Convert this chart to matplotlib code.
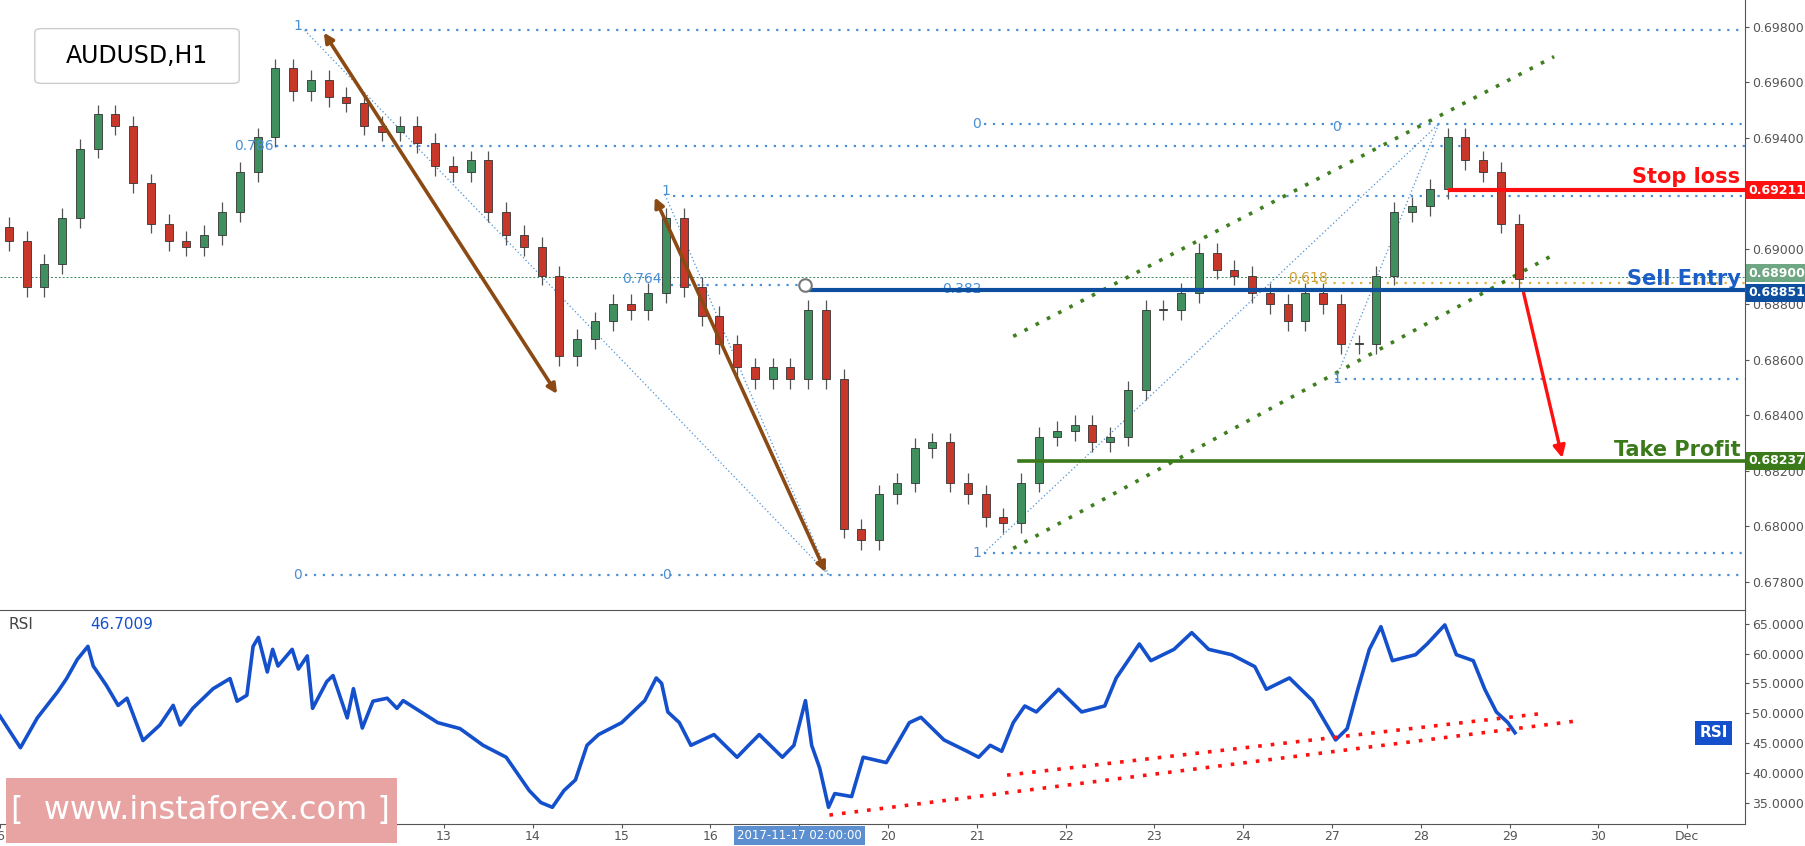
import numpy as np
import matplotlib
matplotlib.use("Agg")
import matplotlib.pyplot as plt
from matplotlib.patches import Rectangle, FancyBboxPatch

# ---- data ----
# 5-hour-ish closes, starting on day index 0 (Nov 6), step 0.2 trading day
closes = [0.69029, 0.68863, 0.68946, 0.69112, 0.69361, 0.69485, 0.69444, 0.69236, 0.69091, 0.69029,
          0.69008, 0.69050, 0.69133, 0.69278, 0.69402, 0.69651, 0.69568, 0.69610, 0.69547, 0.69527,
          0.69444, 0.69423, 0.69444, 0.69381, 0.69299, 0.69278, 0.69319, 0.69133, 0.69050, 0.69008,
          0.68904, 0.68614, 0.68676, 0.68739, 0.68801, 0.68780, 0.68842, 0.69112, 0.68863, 0.68759,
          0.68656, 0.68573, 0.68531, 0.68573, 0.68531, 0.68780, 0.68531, 0.67992, 0.67950, 0.68116,
          0.68158, 0.68282, 0.68303, 0.68158, 0.68116, 0.68033, 0.68013, 0.68158, 0.68324, 0.68344,
          0.68365, 0.68303, 0.68324, 0.68490, 0.68780, 0.68780, 0.68842, 0.68987, 0.68925, 0.68904,
          0.68842, 0.68801, 0.68739, 0.68842, 0.68801, 0.68656, 0.68656, 0.68904, 0.69133, 0.69153,
          0.69216, 0.69402, 0.69319, 0.69278, 0.69091, 0.68892]
first_open = 0.69080

rsi_t = [0.00, 0.23, 0.42, 0.65, 0.75, 0.87, 0.99, 1.05, 1.20, 1.33, 1.43, 1.61, 1.80, 1.95, 2.03,
         2.17, 2.40, 2.59, 2.67, 2.78, 2.85, 2.91, 3.01, 3.07, 3.13, 3.29, 3.36, 3.46, 3.52, 3.68,
         3.75, 3.91, 3.98, 4.08, 4.20, 4.36, 4.47, 4.54, 4.93, 5.18, 5.44, 5.70, 5.96, 6.09, 6.22,
         6.35, 6.48, 6.61, 6.74, 7.00, 7.26, 7.39, 7.45, 7.52, 7.65, 7.78, 8.04, 8.30, 8.43, 8.55,
         8.81, 8.94, 9.07, 9.14, 9.23, 9.33, 9.40, 9.59, 9.72, 9.98, 10.24, 10.37, 10.63, 10.89,
         11.02, 11.15, 11.28, 11.41, 11.54, 11.67, 11.92, 12.18, 12.44, 12.57, 12.83, 12.96, 13.22,
         13.42, 13.61, 13.87, 14.13, 14.26, 14.52, 14.78, 15.04, 15.17, 15.29, 15.42, 15.55, 15.68,
         15.94, 16.07, 16.27, 16.40, 16.59, 16.72, 16.85, 16.98, 17.06]
rsi_v = [49.5, 44.2, 49.2, 53.6, 55.8, 59.0, 61.2, 57.9, 54.6, 51.3, 52.5, 45.4, 48.0, 51.3, 48.0,
         50.8, 54.1, 55.8, 52.0, 53.0, 61.2, 62.7, 56.9, 60.7, 57.9, 60.7, 57.4, 59.6, 50.8, 55.3,
         56.3, 49.2, 54.1, 47.5, 52.0, 52.5, 50.8, 52.1, 48.4, 47.4, 44.6, 42.6, 37.0, 35.0, 34.2,
         37.0, 38.8, 44.6, 46.4, 48.4, 52.1, 55.9, 55.0, 50.2, 48.4, 44.6, 46.4, 42.6, 44.6, 46.4,
         42.6, 44.6, 52.1, 44.6, 40.8, 34.2, 36.5, 36.0, 42.6, 41.7, 48.4, 49.3, 45.5, 43.6,
         42.6, 44.6, 43.6, 48.4, 51.2, 50.2, 54.0, 50.2, 51.2, 55.9, 61.6, 58.8, 60.7,
         63.5, 60.7, 59.8, 57.8, 54.0, 55.9, 52.1, 45.5, 47.4, 54.0, 60.7, 64.5, 58.8,
         59.8, 61.6, 64.8, 59.8, 58.8, 54.0, 50.2, 48.4, 46.7]

day_labels = ["6", "7", "8", "9", "10", "13", "14", "15", "16", "", "20", "21", "22", "23", "24",
              "27", "28", "29", "30", "Dec"]

stop_loss, sell_entry, take_profit, last_close = 0.69211, 0.68851, 0.68237, 0.68900

fib_blue = "#4a8fd6"
W, H = 1805, 846
AW = 1745
fig = plt.figure(figsize=(W / 100, H / 100), dpi=100)
ax = fig.add_axes([0, 1 - 610 / H, AW / W, 610 / H])
ar = fig.add_axes([0, 22 / H, AW / W, (828 - 610 - 4) / H])
X1 = 19.65

# ---- candles ----
step = 0.2
t = np.arange(len(closes)) * step + 0.1
opens = [first_open] + closes[:-1]
for ti, o, c in zip(t, opens, closes):
    up = c >= o
    col = "#3f8f5f" if up else "#c8382a"
    lo, hi = min(o, c), max(o, c)
    ax.vlines(ti, lo - 0.00035, hi + 0.00035, color="#555555", lw=0.9, zorder=2)
    ax.add_patch(Rectangle((ti - 0.045, lo), 0.09, max(hi - lo, 0.00004), facecolor=col,
                           edgecolor="#333333", lw=0.6, zorder=3))

# ---- fibonacci levels (dotted) ----
def hdot(x0, y, color=fib_blue, lw=1.6):
    ax.plot([x0, X1], [y, y], ls=(0, (1, 3)), color=color, lw=lw, zorder=1)

hdot(3.43, 0.69788); hdot(3.43, 0.67826)
hdot(3.11, 0.69370); hdot(7.58, 0.69191)
hdot(11.08, 0.69450); hdot(11.08, 0.67905); hdot(15.04, 0.68530)
ax.plot([7.45, 9.07], [0.68870, 0.68870], ls=(0, (1, 3)), color=fib_blue, lw=1.6)
hdot(14.52, 0.68877, color="#e0b040")
ax.axhline(last_close, color="#3a8a5a", ls=(0, (2, 2)), lw=0.7, zorder=1)
for (x0, y0, x1, y1) in [(3.43, 0.69788, 9.33, 0.67826), (7.49, 0.69195, 9.33, 0.67826),
                         (11.08, 0.67905, 16.2, 0.69450), (15.04, 0.68530, 16.2, 0.69450)]:
    ax.plot([x0, x1], [y0, y1], ls=(0, (1, 2)), color=fib_blue, lw=0.9, zorder=1)
fk = dict(color=fib_blue, fontsize=10, ha="right", va="center")
ax.text(3.40, 0.69805, "1", **fk); ax.text(3.40, 0.67826, "0", **fk)
ax.text(3.08, 0.69370, "0.786", **fk); ax.text(7.55, 0.69210, "1", **fk)
ax.text(7.45, 0.68890, "0.764", **fk); ax.text(7.55, 0.67826, "0", **fk)
ax.text(11.05, 0.69450, "0", **fk); ax.text(15.10, 0.69440, "0", **fk)
ax.text(11.05, 0.67905, "1", **fk); ax.text(15.10, 0.68530, "1", **fk)
ax.text(11.05, 0.68855, "0.382", **fk)
ax.text(14.95, 0.68895, "0.618", color="#d4a030", fontsize=10, ha="right", va="center")

# ---- arrows ----
for (x0, y0, x1, y1) in [(3.63, 0.69788, 6.29, 0.68469), (7.36, 0.69195, 9.31, 0.67826)]:
    ax.annotate("", xy=(x1, y1), xytext=(x0, y0),
                arrowprops=dict(arrowstyle="<|-|>", color="#8b4a14", lw=2.6, mutation_scale=14))
ax.annotate("", xy=(17.6, take_profit), xytext=(17.15, sell_entry),
            arrowprops=dict(arrowstyle="-|>", color="#ff1010", lw=2.4, mutation_scale=18))

# ---- channel ----
ax.plot([11.41, 17.5], [0.68685, 0.69693], ls=(0, (1, 2.5)), color="#3f7f1f", lw=2.6)
ax.plot([11.41, 17.5], [0.67921, 0.68980], ls=(0, (1, 2.5)), color="#3f7f1f", lw=2.6)

# ---- trade levels ----
ax.plot([9.07, X1], [sell_entry] * 2, color="#0d4f9e", lw=3, zorder=4)
ax.plot([16.33, X1], [stop_loss] * 2, color="#ff1010", lw=3, zorder=4)
ax.plot([11.47, X1], [take_profit] * 2, color="#3a7a1a", lw=2.6, zorder=4)
ax.plot([9.07], [0.68870], "o", ms=9, mfc="white", mec="#777777", mew=1.5, zorder=5)
ax.text(19.6, stop_loss + 0.00012, "Stop loss", color="#ff1010", fontsize=15, fontweight="bold",
        ha="right", va="bottom")
ax.text(19.6, sell_entry + 0.00004, "Sell Entry", color="#1a5fc8", fontsize=15, fontweight="bold",
        ha="right", va="bottom")
ax.text(19.6, take_profit + 0.00004, "Take Profit", color="#3a7a1a", fontsize=15, fontweight="bold",
        ha="right", va="bottom")

# ---- axes styling ----
ax.set_xlim(0, X1); ax.set_ylim(0.67699, 0.69897)
ax.yaxis.tick_right()
ax.set_yticks(np.arange(0.6780, 0.69801, 0.0020))
ax.yaxis.set_major_formatter(plt.FuncFormatter(lambda v, p: f"{v:.5f}"))
ax.tick_params(axis="y", labelsize=9, colors="#555555", length=3, pad=2)
ax.set_xticks([])
for s in ["top", "left", "bottom"]:
    ax.spines[s].set_visible(False)
ax.spines["right"].set_color("#555555")

for y, txt, col in [(stop_loss, "0.69211", "#ff1010"), (last_close + 0.00012, "0.68900", "#6fa683"),
                    (sell_entry - 0.00008, "0.68851", "#0d4f9e"), (take_profit, "0.68237", "#3a7a1a")]:
    ax.text(1.002, y, txt, transform=ax.get_yaxis_transform(), color="white", fontsize=9,
            fontweight="bold", va="center", ha="left",
            bbox=dict(boxstyle="square,pad=0.2", fc=col, ec="none"), clip_on=False)

# title box
fig.patches.append(FancyBboxPatch((42 / W, 1 - 80 / H), 190 / W, 48 / H, boxstyle="round,pad=0.004",
                                  transform=fig.transFigure, fc="white", ec="#cccccc", lw=1,
                                  zorder=10))
fig.text(137 / W, 1 - 56 / H, "AUDUSD,H1", fontsize=17, ha="center", va="center", zorder=11)

# ---- RSI ----
ar.plot(rsi_t, rsi_v, color="#1550cc", lw=2.6)
ar.plot([9.34, 17.76], [32.9, 48.7], ls=(0, (1, 2.5)), color="#ff1010", lw=2.6)
ar.plot([11.34, 17.4], [39.6, 50.0], ls=(0, (1, 2.5)), color="#ff1010", lw=2.6)
ar.set_xlim(0, X1); ar.set_ylim(31.4, 67.3)
ar.yaxis.tick_right()
ar.set_yticks(np.arange(35, 66, 5))
ar.yaxis.set_major_formatter(plt.FuncFormatter(lambda v, p: f"{v:.4f}"))
ar.tick_params(axis="y", labelsize=9, colors="#555555", length=3, pad=2)
ar.set_xticks(np.arange(len(day_labels)))
ar.set_xticklabels(day_labels)
ar.tick_params(axis="x", labelsize=9, colors="#555555", length=3, pad=1)
ar.spines["left"].set_visible(False)
for s in ["top", "right", "bottom"]:
    ar.spines[s].set_color("#555555")
ar.text(0.005, 0.93, "RSI", transform=ar.transAxes, fontsize=11, color="#444444", va="center")
ar.text(0.052, 0.93, "46.7009", transform=ar.transAxes, fontsize=11, color="#1550cc", va="center")
ar.text(0.99, 46.7, "RSI", transform=ar.get_yaxis_transform(), color="white", fontsize=11,
        fontweight="bold", ha="right", va="center",
        bbox=dict(boxstyle="square,pad=0.3", fc="#1550cc", ec="none"))
ar.text(9.0, 30.6, "2017-11-17 02:00:00", color="white", fontsize=8.5, ha="center", va="top",
        bbox=dict(boxstyle="square,pad=0.25", fc="#5b8fd0", ec="none"), clip_on=False)

# watermark
fig.patches.append(Rectangle((6 / W, 3 / H), 391 / W, 65 / H, transform=fig.transFigure,
                             fc="#e8a3a3", ec="none", zorder=10))
fig.text(200 / W, 36 / H, "[  www.instaforex.com ]", color="white", fontsize=23, ha="center",
         va="center", zorder=11)

fig.savefig("out.png", dpi=100)
